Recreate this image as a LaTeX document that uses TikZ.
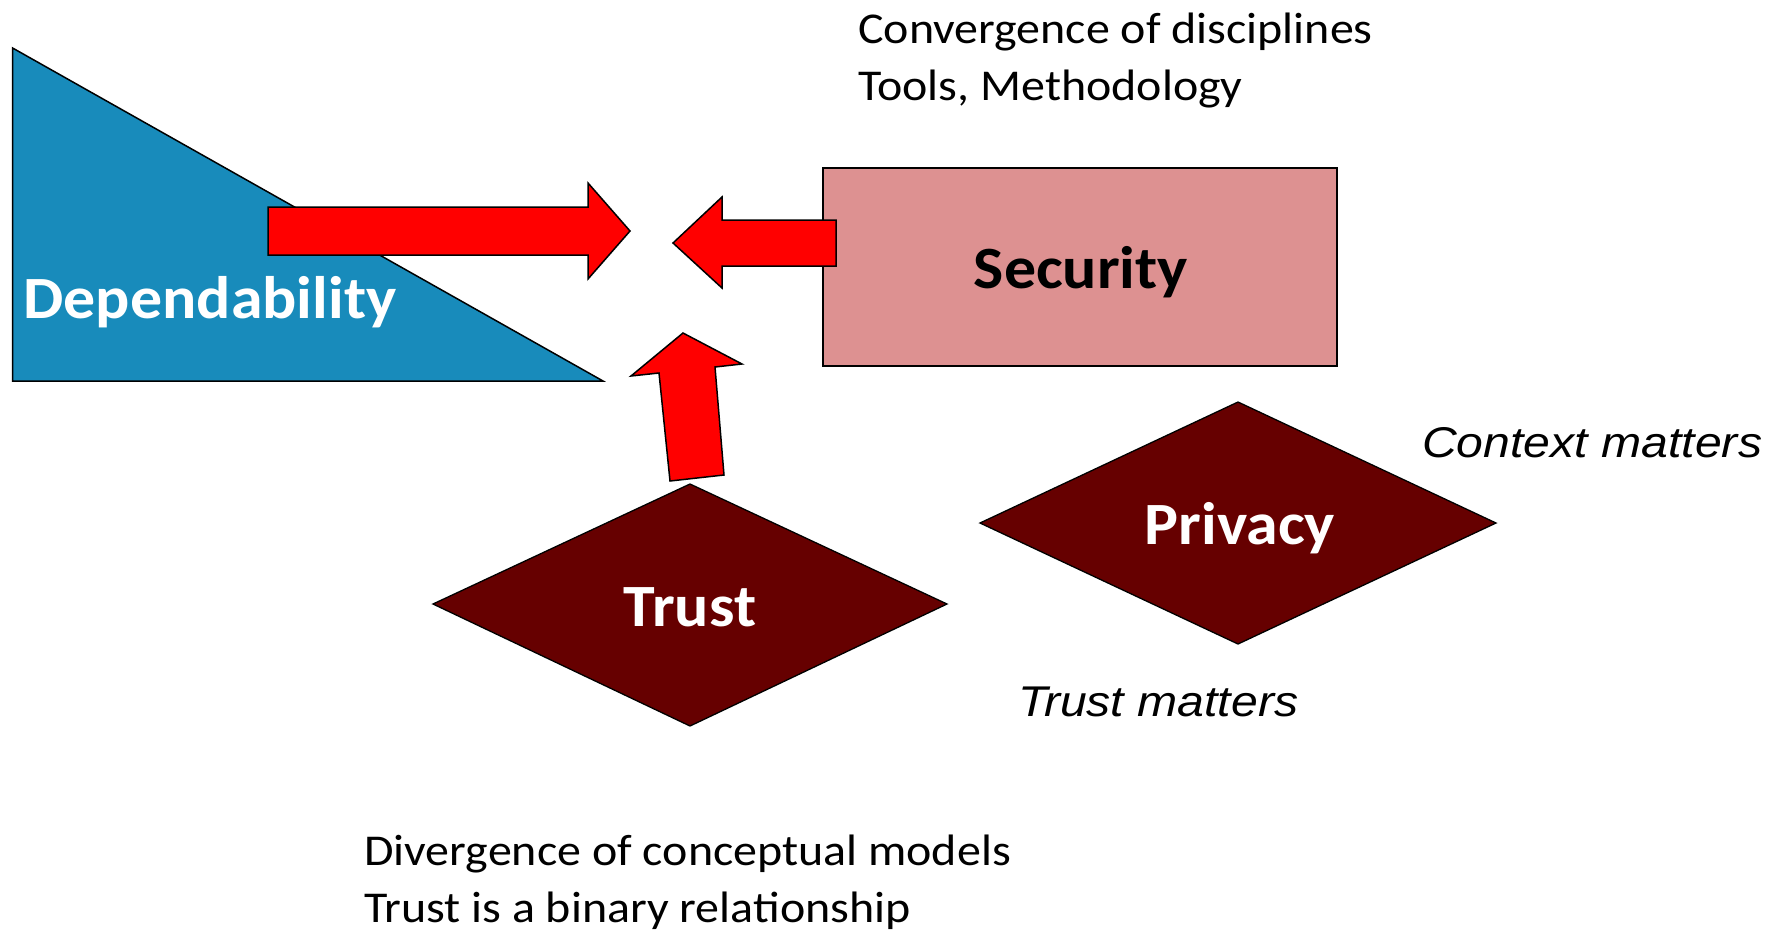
\documentclass[tikz,border=0pt]{standalone}
\usepackage{fontspec}
\setmainfont{Carlito}
\newfontfamily\calwide[FakeStretch=1.09]{Carlito}
\newfontfamily\calbold[FakeStretch=1.065]{Carlito Bold}
\newfontfamily\arialit[FakeStretch=1.12]{Liberation Sans Italic}
\definecolor{depblue}{RGB}{24,139,187}
\definecolor{secpink}{RGB}{221,145,145}
\definecolor{darkred}{RGB}{102,0,0}
\definecolor{arrowred}{RGB}{255,0,0}
\tikzset{
  outline/.style={draw=black, line width=1.5pt, line join=miter},
  blockarrow/.style={outline, fill=arrowred},
  bigbold/.style={font=\calbold\fontsize{60}{70}\selectfont, inner sep=0pt},
  plain/.style={font=\calwide\fontsize{44}{52}\selectfont, inner sep=0pt, anchor=base west},
  ital/.style={font=\arialit\fontsize{43}{50}\selectfont, inner sep=0pt, anchor=base west}
}
\begin{document}
\begin{tikzpicture}[x=1pt,y=-1pt]
\useasboundingbox (0,0) rectangle (1766,932);
% Dependability triangle
\draw[outline, fill=depblue] (12.6,48) -- (12.6,381) -- (603,381) -- cycle;
\node[bigbold, text=white, anchor=base] (dep) at (210,318) {Dependability};
% Security box
\draw[outline, line width=1.3pt, fill=secpink] (823,168) rectangle (1337,366);
\node[bigbold, text=black, anchor=base] (sec) at (1081,288) {Security};
% Trust diamond
\draw[outline, line width=1.3pt, fill=darkred] (690,484) -- (947,604) -- (690,726) -- (433,604) -- cycle;
\node[bigbold, text=white, anchor=base] (trust) at (690,626) {Trust};
% Privacy diamond
\draw[outline, line width=1.3pt, fill=darkred] (1238,402) -- (1496,523) -- (1238,644) -- (980,523) -- cycle;
\node[bigbold, text=white, anchor=base] (priv) at (1240,544) {Privacy};
% Arrows
\draw[blockarrow] (268,207) -- (588,207) -- (588,183) -- (630,231) -- (588,279) -- (588,255) -- (268,255) -- cycle;
\draw[blockarrow] (836,220) -- (722,220) -- (722,197) -- (673,243) -- (722,288) -- (722,266) -- (836,266) -- cycle;
\draw[blockarrow] (683,333) -- (742,364) -- (715,367) -- (724,475) -- (670,481) -- (659,373) -- (631,376) -- cycle;
% Texts
\node[plain] (conv) at (858,43) {Convergence of disciplines};
\node[plain] (tools) at (858,100) {Tools, Methodology};
\node[ital] (ctx) at (1422,457) {Context matters};
\node[ital] (tm) at (1018,716) {Trust matters};
\node[plain] (div) at (364,865) {Divergence of conceptual models};
\node[plain] (bin) at (364,922) {Trust is a binary relationship};
\end{tikzpicture}
\end{document}
